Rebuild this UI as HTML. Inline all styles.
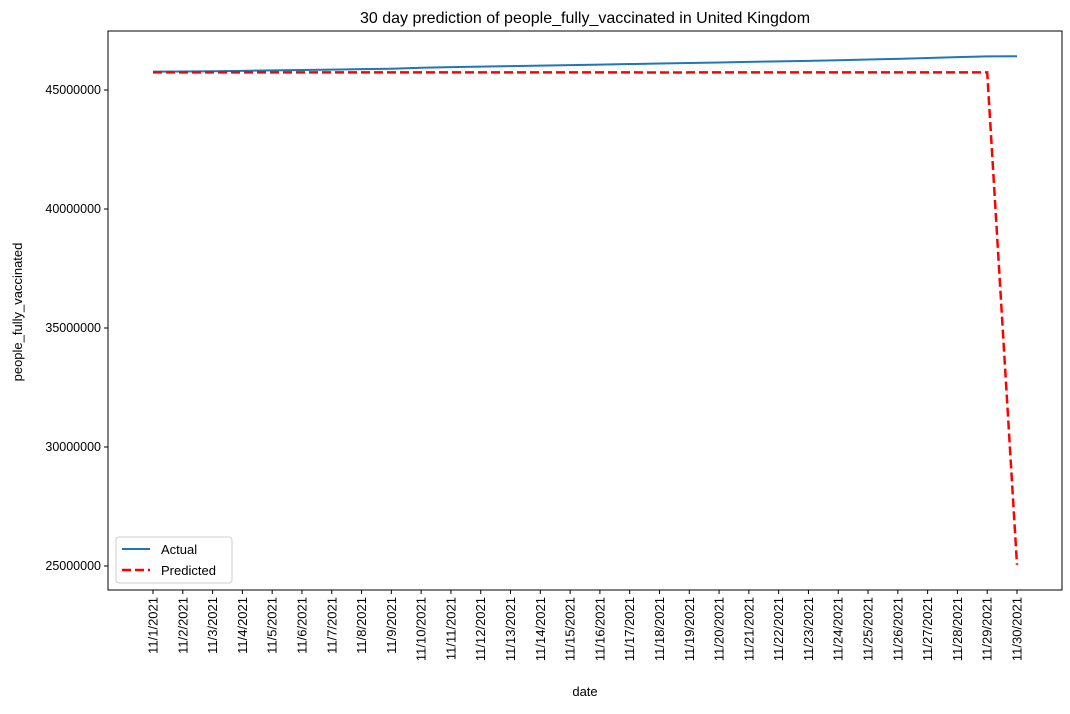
<!DOCTYPE html>
<html><head><meta charset="utf-8"><style>
body{margin:0;background:#fff;font-family:"Liberation Sans","DejaVu Sans",sans-serif;}
svg text{font-family:"Liberation Sans","DejaVu Sans",sans-serif;fill:#000;}
</style></head><body>
<svg id="chart" width="1070" height="709"></svg>
<script>
const dates = [];
for (let d = 1; d <= 30; d++) dates.push('11/' + d + '/2021');
const actual = [45770000,45778000,45790000,45805000,45822000,45840000,45858000,45876000,45895000,45935000,45960000,45982000,46005000,46026000,46046000,46068000,46090000,46112000,46135000,46158000,46180000,46202000,46225000,46250000,46280000,46310000,46345000,46380000,46415000,46420000];
const predicted = [45740000,45740000,45741000,45741000,45742000,45743000,45743000,45742000,45741000,45740000,45741000,45742000,45743000,45742000,45741000,45740000,45739000,45735000,45738000,45741000,45742000,45741000,45741000,45741000,45740000,45739000,45741000,45742000,45741000,25050000];
const yTicks = [25000000,30000000,35000000,40000000,45000000];

const NS = 'http://www.w3.org/2000/svg';
const svg = document.getElementById('chart');
const L = 108, R = 1062, T = 31, B = 590;
const x = i => 153 + i * (1017 - 153) / 29;
const y = v => 566 - (v - 25000000) / 5000000 * 119;
function mk(tag, attrs, parent) { const e = document.createElementNS(NS, tag); for (const k in attrs) e.setAttribute(k, attrs[k]); (parent || svg).appendChild(e); return e; }

const title = mk('text', {x: 585, y: 23, 'text-anchor': 'middle', 'font-size': 16});
title.textContent = '30 day prediction of people_fully_vaccinated in United Kingdom';



yTicks.forEach(v => {
  const g = mk('g', {});
  
  
  mk('line', {x1: L - 4, x2: L, y1: y(v), y2: y(v), stroke: '#000'}, g);
  const t = mk('text', {x: L - 7, y: y(v) + 4, 'text-anchor': 'end', 'font-size': 12.5}, g);
  t.textContent = String(v);
});
dates.forEach((d, i) => {
  const g = mk('g', {});
  
  
  mk('line', {x1: x(i), x2: x(i), y1: B, y2: B + 4, stroke: '#000'}, g);
  const t = mk('text', {x: 0, y: 0, 'text-anchor': 'end', 'font-size': 13, transform: `translate(${x(i) + 4.5},${B + 7}) rotate(-90)`}, g);
  t.textContent = d;
});

const yl = mk('text', {x: 0, y: 0, 'text-anchor': 'middle', 'font-size': 13, transform: 'translate(22,312) rotate(-90)'});
yl.textContent = 'people_fully_vaccinated';


const xl = mk('text', {x: 585, y: 696, 'text-anchor': 'middle', 'font-size': 13});
xl.textContent = 'date';



const a = mk('polyline', {points: actual.map((v, i) => x(i) + ',' + y(v)).join(' '), fill: 'none', stroke: '#1f77b4', 'stroke-width': 2});


const p = mk('polyline', {points: predicted.map((v, i) => x(i) + ',' + y(v)).join(' '), fill: 'none', stroke: '#ff0000', 'stroke-width': 2.5, 'stroke-dasharray': '9,4'});



const frame = mk('rect', {x: L, y: T, width: R - L, height: B - T, fill: 'none', stroke: '#000', 'stroke-width': 1});



const lg = mk('g', {});


mk('rect', {x: 116, y: 537, width: 116, height: 46, rx: 3, fill: '#fff', stroke: '#ccc'}, lg);
mk('line', {x1: 122, x2: 150, y1: 549, y2: 549, stroke: '#1f77b4', 'stroke-width': 2}, lg);
mk('line', {x1: 122, x2: 150, y1: 570, y2: 570, stroke: '#ff0000', 'stroke-width': 2.5, 'stroke-dasharray': '9,4'}, lg);
const t1 = mk('text', {x: 161, y: 554, 'font-size': 13}, lg); t1.textContent = 'Actual';
const t2 = mk('text', {x: 161, y: 575, 'font-size': 13}, lg); t2.textContent = 'Predicted';
</script>
</body></html>
